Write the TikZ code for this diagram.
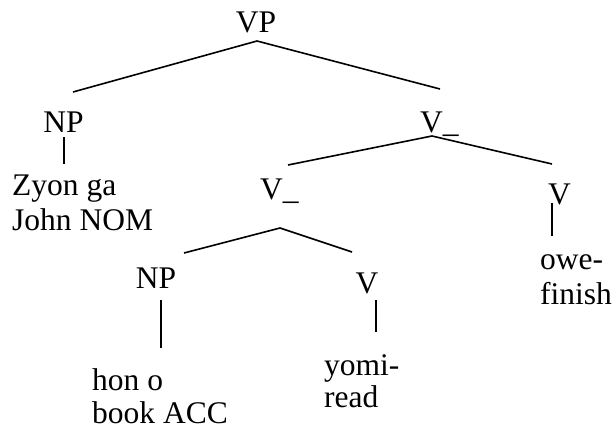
\documentclass[tikz,border=0pt]{standalone}
\usepackage{fontspec}
\setmainfont{Liberation Serif}
\begin{document}
\begin{tikzpicture}[x=1pt,y=-1pt,
  lab/.style={font=\fontsize{31.5}{35}\selectfont, inner sep=0pt, anchor=base},
  leaf/.style={lab, anchor=base west, align=left},
  branch/.style={line width=1.6pt}]
\useasboundingbox (0,0) rectangle (615,431);
% category nodes
\node[lab] (VP) at (256,32) {VP};
\node[lab] (NPa) at (63.5,132) {NP};
\node[lab, anchor=base west] (Vbara) at (420,132) {V\_};
\node[lab, anchor=base west] (Vbarb) at (260,199) {V\_};
\node[lab] (Va) at (559.5,204) {V};
\node[lab] (NPb) at (156,288) {NP};
\node[lab] (Vb) at (367,293) {V};
% leaves (anchor = baseline of the last line)
\node[leaf] (zyon) at (12,230) {Zyon ga\\John NOM};
\node[leaf] (owe) at (540,304) {owe-\\finish};
\node[leaf] (hon) at (92,423) {hon o\\[-2pt]book ACC};
\node[leaf] (yomi) at (324,407) {yomi-\\[-3pt]read};
% branch end points
\coordinate (VPd) at (257,41);
\coordinate (NPau) at (73,92);
\coordinate (Vbarau) at (440,89);
\coordinate (Vbarad) at (432,136);
\coordinate (Vbarbu) at (288,165);
\coordinate (Vau) at (552,164);
\coordinate (Vbarbd) at (280,228);
\coordinate (NPbu) at (184,253);
\coordinate (Vbu) at (352,252);
\coordinate (NPad) at (64,137);
\coordinate (zyonu) at (64,164);
\coordinate (Vad) at (552,203);
\coordinate (oweu) at (552,236);
\coordinate (NPbd) at (161,300);
\coordinate (honu) at (161,348);
\coordinate (Vbd) at (376,300);
\coordinate (yomiu) at (376,332);
% connectors
\draw[branch] (NPau) -- (VPd) -- (Vbarau);
\draw[branch] (Vbarbu) -- (Vbarad) -- (Vau);
\draw[branch] (NPbu) -- (Vbarbd) -- (Vbu);
\draw[branch] (NPad) -- (zyonu);
\draw[branch] (Vad) -- (oweu);
\draw[branch] (NPbd) -- (honu);
\draw[branch] (Vbd) -- (yomiu);
\end{tikzpicture}
\end{document}
